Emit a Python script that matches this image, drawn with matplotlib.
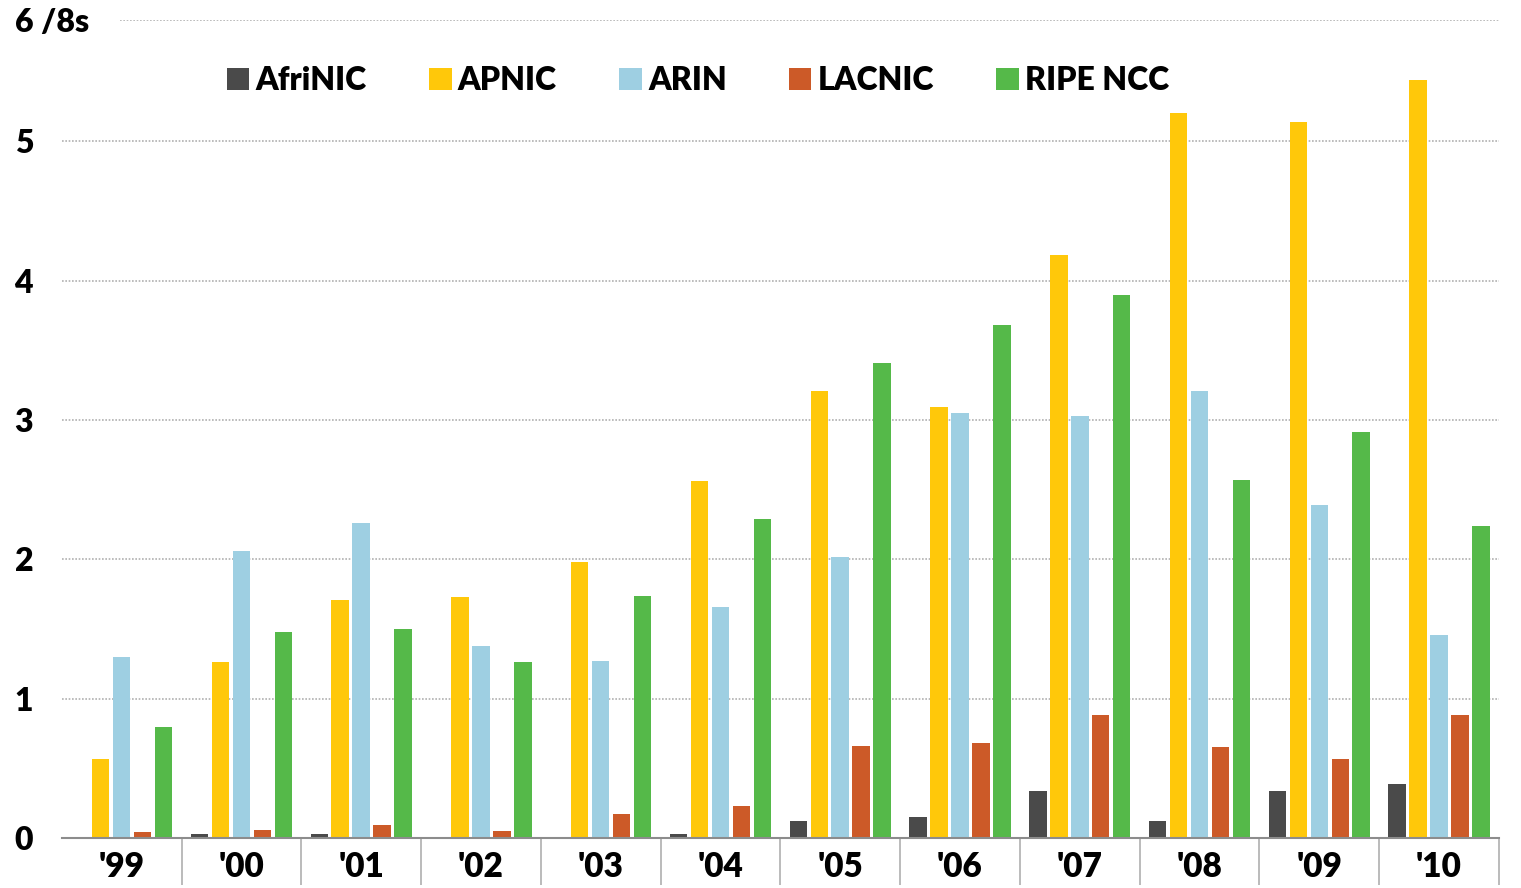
import numpy as np
import matplotlib.pyplot as plt

plt.rcParams["font.family"] = ["Lato", "DejaVu Sans"]
plt.rcParams["font.weight"] = "heavy"

years = ["'99", "'00", "'01", "'02", "'03", "'04", "'05", "'06", "'07", "'08", "'09", "'10"]
registries = ["AfriNIC", "APNIC", "ARIN", "LACNIC", "RIPE NCC"]

afrinic = [0.00, 0.03, 0.03, 0.01, 0.01, 0.03, 0.12, 0.15, 0.34, 0.12, 0.34, 0.39]
apnic = [0.57, 1.26, 1.71, 1.73, 1.98, 2.56, 3.21, 3.09, 4.18, 5.20, 5.14, 5.44]
arin = [1.30, 2.06, 2.26, 1.38, 1.27, 1.66, 2.02, 3.05, 3.03, 3.21, 2.39, 1.46]
lacnic = [0.04, 0.06, 0.09, 0.05, 0.17, 0.23, 0.66, 0.68, 0.88, 0.65, 0.57, 0.88]
ripe = [0.80, 1.48, 1.50, 1.26, 1.74, 2.29, 3.41, 3.68, 3.90, 2.57, 2.91, 2.24]

series = [afrinic, apnic, arin, lacnic, ripe]
colors = ["#4a4a4a", "#ffc80a", "#9ecfe2", "#cc5a28", "#55b949"]

# top line of the original sits a bit below 6 on the bar scale
ytop = 5.87
yticks = [0, 1, 2, 3, 4, 5, ytop]
ytick_labels = ["0", "1", "2", "3", "4", "5", "6 /8s"]

fig = plt.figure(figsize=(15.21, 8.88), dpi=100)
ax = fig.add_axes([0.0406, 0.0563, 0.9449, 0.9212])

x = np.arange(len(years))
slot = 0.175
width = 0.146
for i, (vals, c, name) in enumerate(zip(series, colors, registries)):
    ax.bar(x + (i - 2) * slot, vals, width=width, color=c, label=name, zorder=3)

ax.set_xlim(-0.5, len(years) - 0.5)
ax.set_ylim(0, ytop)

# dotted gridlines
for y in yticks[1:]:
    start = 0.0406 if y == ytop else 0.0
    ax.axhline(y, xmin=start, xmax=1, color="#b0b0b0", ls=(0, (1, 1)), lw=1.2, zorder=1)

for s in ["top", "right", "left"]:
    ax.spines[s].set_visible(False)
ax.spines["bottom"].set_color("#8c8c8c")
ax.spines["bottom"].set_linewidth(1.5)
ax.spines["bottom"].set_zorder(4)

ax.set_xticks(x, labels=years, fontsize=24)
ax.set_xticks(np.arange(0.5, len(years)), minor=True)
ax.tick_params(axis="x", which="major", length=0, pad=9)
ax.tick_params(axis="x", which="minor", length=34, width=1.3, color="#b5b5b5")

ax.set_yticks(yticks, labels=ytick_labels, fontsize=23)
ax.tick_params(axis="y", length=0, pad=34)
for lab in ax.get_yticklabels():
    lab.set_horizontalalignment("left")

fig.legend(
    loc="center",
    bbox_to_anchor=(0.459, 0.909),
    ncol=5,
    frameon=False,
    fontsize=23,
    handlelength=0.7,
    handleheight=0.7,
    handletextpad=0.2,
    columnspacing=1.95,
)

fig.savefig("out.png", dpi=100)
